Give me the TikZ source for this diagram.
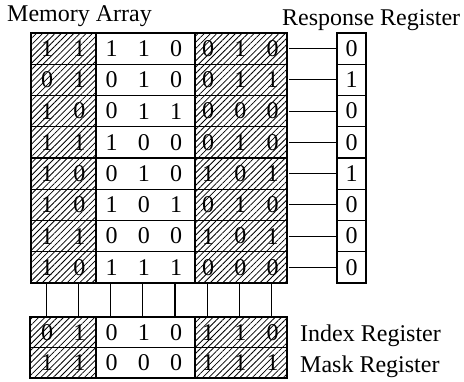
\documentclass[tikz,border=0pt]{standalone}
\usepackage{fontspec}
\setmainfont{Liberation Serif}
\usetikzlibrary{patterns.meta}

\tikzset{
  hatch/.style={pattern={Lines[angle=45,distance=4.4pt,line width=0.8pt]}},
  bit/.style={inner sep=0pt, minimum width=32pt, minimum height=31.25pt, font=\fontsize{24}{27}\selectfont},
  regbit/.style={bit, minimum height=30.5pt},
  respbit/.style={bit, draw, line width=1.3pt, minimum width=29pt},
  frame/.style={line width=2.6pt},
  cellline/.style={line width=1.3pt},
  wire/.style={line width=1.1pt},
  label/.style={inner sep=0pt, anchor=base west, font=\fontsize{24}{27}\selectfont}
}

\begin{document}
\begin{tikzpicture}[x=1pt,y=-1pt]
    \useasboundingbox (0,0) rectangle (464,381);
    % hatched (masked) fields
    \fill[hatch] (31,33) rectangle (96,283);
    \fill[hatch] (195,33) rectangle (287,283);
    \fill[hatch] (30,317) rectangle (96,378);
    \fill[hatch] (195,317) rectangle (287,378);

    % memory array
    \foreach \row [count=\i] in {{1,1,1,1,0,0,1,0},{0,1,0,1,0,0,1,1},{1,0,0,1,1,0,0,0},{1,1,1,0,0,0,1,0},
                                 {1,0,0,1,0,1,0,1},{1,0,1,0,1,0,1,0},{1,1,0,0,0,1,0,1},{1,0,1,1,1,0,0,0}}
        \foreach \b [count=\j] in \row
            \node[bit] (m-\i-\j) at ({15+32.2*\j},{17.375+31.25*\i}) {\b};
    \foreach \i in {1,...,7}
        \draw[cellline] (31,{33+31.25*\i}) -- (287,{33+31.25*\i});
    \draw[cellline] (96,33) -- (96,283);
    \draw[cellline] (195,33) -- (195,283);
    \draw[frame] (31,33) rectangle (287,283);

    % response register
    \foreach \b [count=\i] in {0,1,0,0,1,0,0,0}
        \node[respbit] (r-\i) at (351.5,{17.375+31.25*\i}) {\b};
    \draw[frame] (337,33) rectangle (366,283);
    \foreach \i in {1,...,8}
        \draw[wire] (m-\i-8.east) -- (r-\i.west);

    % index and mask registers
    \foreach \b [count=\j] in {0,1,0,1,0,1,1,0}
        \node[regbit] (x-\j) at ({15+32.2*\j},332.25) {\b};
    \foreach \b [count=\j] in {1,1,0,0,0,1,1,1}
        \node[regbit] (k-\j) at ({15+32.2*\j},362.75) {\b};
    \draw[cellline] (30,347.5) -- (287,347.5);
    \draw[cellline] (96,317) -- (96,378);
    \draw[cellline] (195,317) -- (195,378);
    \draw[frame] (30,317) rectangle (287,378);
    \foreach \j in {1,...,8}
        \draw[wire] ([xshift=-1pt]m-8-\j.south) -- ([xshift=-1pt]x-\j.north);

    % labels
    \node[label] (mem) at (7,21) {Memory Array};
    \node[label] (resp) at (282,25) {Response Register};
    \node[label] (idx) at (300,341) {Index Register};
    \node[label] (mask) at (300,372) {Mask Register};
\end{tikzpicture}
\end{document}
